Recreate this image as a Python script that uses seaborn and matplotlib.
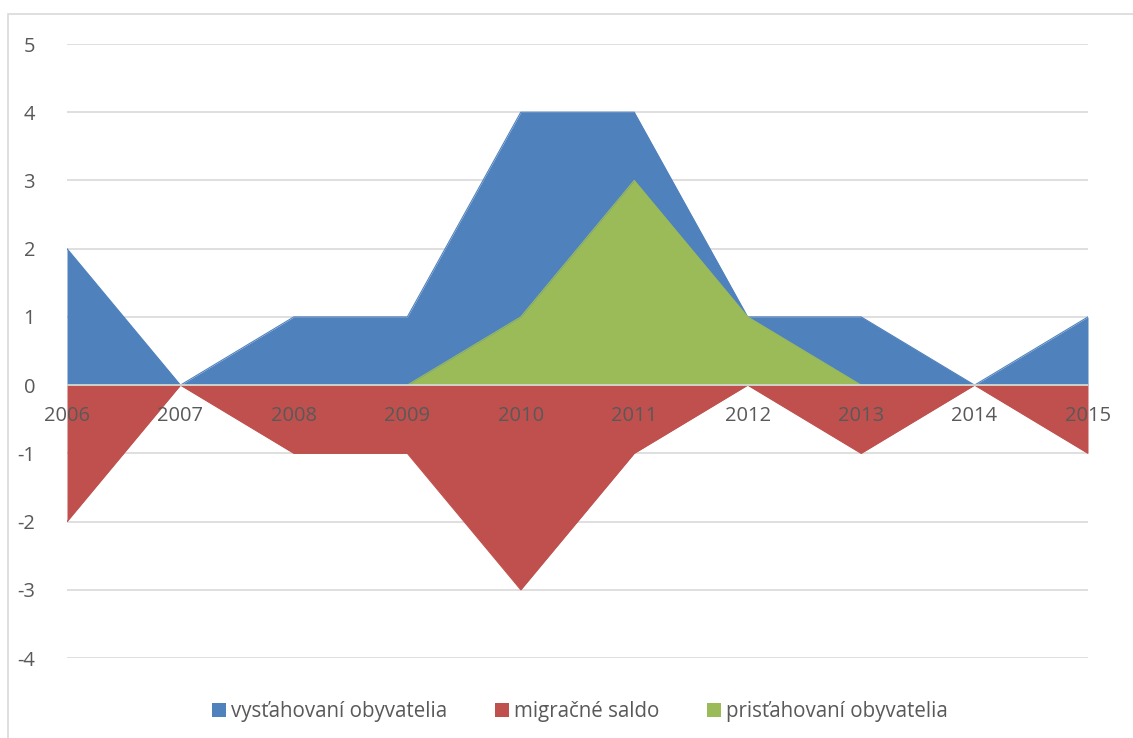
import matplotlib
matplotlib.use("Agg")
import matplotlib.pyplot as plt
import seaborn as sns
import pandas as pd
import numpy as np
from matplotlib.patches import Rectangle, Patch

years = ["2006", "2007", "2008", "2009", "2010", "2011", "2012", "2013", "2014", "2015"]
vystahovani = [2, 0, 1, 1, 4, 4, 1, 1, 0, 1]
saldo = [-2, 0, -1, -1, -3, -1, 0, -1, 0, -1]
pristahovani = [0, 0, 0, 0, 1, 3, 1, 0, 0, 0]
series_names = ["vysťahovaní obyvatelia", "migračné saldo", "prisťahovaní obyvatelia"]
colors = ["#4F81BD", "#C0504D", "#9BBB59"]

sns.set_theme(style="white")
plt.rcParams["font.family"] = ["Open Sans", "DejaVu Sans"]
plt.rcParams["axes.unicode_minus"] = False

df = pd.DataFrame({"x": np.arange(len(years)),
                   series_names[0]: vystahovani,
                   series_names[1]: saldo,
                   series_names[2]: pristahovani})

FS = 14.5
TXT = "#595959"

fig = plt.figure(figsize=(11.33, 7.38), dpi=100)
# outer chart border
fig.patches.append(Rectangle((8 / 1133, -0.1), 1.2, 1.1 - 14 / 738,
                             transform=fig.transFigure, fill=False,
                             edgecolor="#D9D9D9", linewidth=1.2, zorder=0))
ax = fig.add_axes([67 / 1133, 1 - 658 / 738, (1088 - 67) / 1133, (658 - 44) / 738])

for name, col in zip(series_names, colors):
    ax.fill_between(df["x"], 0, df[name], color=col, linewidth=0, zorder=2)
    sns.lineplot(data=df, x="x", y=name, ax=ax, color=col, linewidth=0.8, zorder=2, legend=False)

ax.set_xlim(0, len(years) - 1)
ax.set_ylim(-4, 5)
ax.set_yticks(range(-4, 6))
ax.yaxis.grid(True, color="#D9D9D9", linewidth=1.2, zorder=1)
ax.set_axisbelow(True)
ax.axhline(0, color="#D9D9D9", linewidth=1.2, zorder=3)
for s in ax.spines.values():
    s.set_visible(False)
ax.set_xticks([])
ax.set_xlabel("")
ax.set_ylabel("")
ax.tick_params(axis="y", length=0, pad=23, labelsize=FS, labelcolor=TXT)

for i, y in enumerate(years):
    ax.text(i, -0.46, y, ha="center", va="center", fontsize=FS, color=TXT, zorder=4)

handles = [Patch(facecolor=c, edgecolor="none") for c in colors]
fig.legend(handles, series_names, loc="center", bbox_to_anchor=(580 / 1133, 1 - 712 / 738),
           ncol=3, frameon=False, fontsize=14.8, handlelength=0.65, handleheight=0.65,
           handletextpad=0.25, columnspacing=2.35, labelcolor=TXT)

fig.savefig("out.png", dpi=100)
